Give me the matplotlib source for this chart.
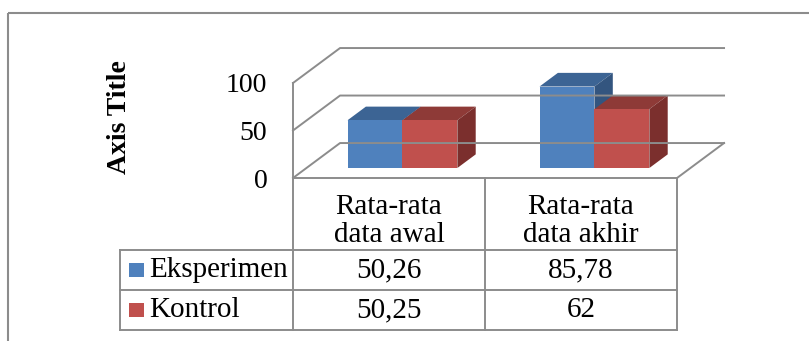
import numpy as np
import matplotlib
matplotlib.use("Agg")
import matplotlib.pyplot as plt
from matplotlib.patches import Polygon, Rectangle

categories = ["Rata-rata\ndata awal", "Rata-rata\ndata akhir"]
series_names = ["Eksperimen", "Kontrol"]
eksperimen = [50.26, 85.78]
kontrol = [50.25, 62]
y_ticks = [0, 50, 100]
axis_title = "Axis Title"

# face colours: front, top, side
colors = {
    "Eksperimen": ("#4F81BD", "#3C6494", "#33557F"),
    "Kontrol": ("#C0504D", "#8E3A37", "#7B2F2D"),
}
grid_col = "#8C8C8C"
W, H, DPI = 809, 341, 100
fs = 21

plt.rcParams['font.family'] = ['Liberation Serif', 'DejaVu Serif']

fig = plt.figure(figsize=(W / DPI, H / DPI), dpi=DPI)

# pixel overlay for frame, table and legend keys
pix = fig.add_axes([0, 0, 1, 1])
pix.set_xlim(0, W)
pix.set_ylim(H, 0)
pix.axis("off")

# plot area: x in category units, y in values
x0_px, x1_px, y0_px, y1_px = 293, 677, 178, 83
ax = fig.add_axes([x0_px / W, (H - y0_px) / H,
                   (x1_px - x0_px) / W, (y0_px - y1_px) / H])
ncat = len(categories)
ax.set_xlim(0, ncat)
ax.set_ylim(0, 100)
ax.set_frame_on(False)
ax.set_xticks([])
ax.set_yticks(y_ticks)
ax.set_yticklabels([str(t) for t in y_ticks])
ax.tick_params(axis="y", length=0, pad=18.5, labelsize=20)

# depth of the 3d box in data units
DX, DY = 0.245, 36.8
lw = 1.4

# side wall and back wall gridlines
ax.plot([0, 0], [0, 100], color=grid_col, lw=lw, clip_on=False)
for t in y_ticks:
    ax.plot([0, DX, ncat + DX], [t, t + DY, t + DY],
            color=grid_col, lw=lw, clip_on=False)
# floor front and right edges
ax.plot([0, ncat, ncat + DX], [0, 0, DY], color=grid_col, lw=lw, clip_on=False)

# bars
f0, f1 = 0.286, 0.676
bw = 0.286
for i in range(ncat):
    for k, (name, vals) in enumerate(zip(series_names, [eksperimen, kontrol])):
        front, top, side = colors[name]
        xl = i + 0.5 - bw + k * bw + f0 * DX
        xr = xl + bw
        yb = f0 * DY
        yt = vals[i] + f0 * DY
        ddx = (f1 - f0) * DX
        ddy = (f1 - f0) * DY
        ax.add_patch(Polygon([[xl, yt], [xr, yt], [xr + ddx, yt + ddy], [xl + ddx, yt + ddy]],
                             closed=True, facecolor=top, edgecolor="none", clip_on=False))
        ax.add_patch(Polygon([[xr, yb], [xr + ddx, yb + ddy], [xr + ddx, yt + ddy], [xr, yt]],
                             closed=True, facecolor=side, edgecolor="none", clip_on=False))
        ax.add_patch(Rectangle((xl, yb), bw, vals[i], facecolor=front,
                               edgecolor="none", clip_on=False))

# outer chart frame
pix.add_patch(Rectangle((8, 13), 900, 400, fill=False, edgecolor="#8C8C8C", lw=1.5))

pix.text(120, 117, axis_title, rotation=90, ha="center", va="center",
         fontsize=20, fontweight="bold")

# data table
col_px = np.linspace(x0_px, x1_px, ncat + 1)
leg_left = 120
row_y = [178, 250, 290, 330]
tc = "#8C8C8C"
for x in col_px:
    pix.plot([x, x], [row_y[0], row_y[-1]], color=tc, lw=lw)
pix.plot([leg_left, leg_left], [row_y[1], row_y[-1]], color=tc, lw=lw)
for y in row_y[1:]:
    pix.plot([leg_left, col_px[-1]], [y, y], color=tc, lw=lw)

for i, cat in enumerate(categories):
    cx = (col_px[i] + col_px[i + 1]) / 2
    pix.text(cx, (row_y[0] + row_y[1]) / 2 + 7, cat, ha="center", va="center",
             fontsize=fs, linespacing=1.05)

for r, (name, vals) in enumerate(zip(series_names, [eksperimen, kontrol])):
    cy = (row_y[r + 1] + row_y[r + 2]) / 2
    pix.add_patch(Rectangle((129, cy - 7), 15, 14, facecolor=colors[name][0], edgecolor="none"))
    pix.text(149, cy, name, ha="left", va="center", fontsize=fs)
    for i, v in enumerate(vals):
        cx = (col_px[i] + col_px[i + 1]) / 2
        pix.text(cx, cy, f"{v:g}".replace(".", ","), ha="center", va="center", fontsize=fs)

fig.savefig("out.png", dpi=DPI)
